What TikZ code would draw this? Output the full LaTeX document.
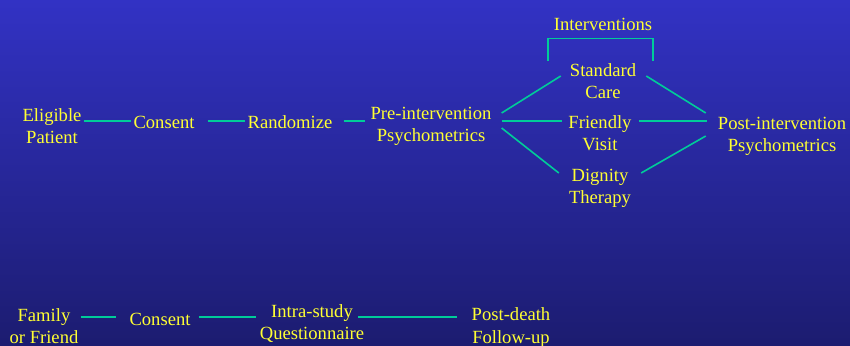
\documentclass[tikz,border=0pt]{standalone}
\usepackage{fontspec}
\setmainfont{Liberation Serif}
\newfontfamily\slidefont{Liberation Serif}
\definecolor{bgtop}{RGB}{50,50,196}
\definecolor{bgbot}{RGB}{28,28,112}
\definecolor{txt}{RGB}{255,255,51}
\definecolor{lnk}{RGB}{0,204,153}
\begin{document}
\begin{tikzpicture}[x=1bp,y=1bp]
\tikzstyle{lbl} = [text=txt, align=center, inner sep=2bp, font=\slidefont\fontsize{18.6bp}{22.3bp}\selectfont] % yellow text node
\tikzstyle{link} = [draw=lnk, line width=1.6bp] % teal connector
\useasboundingbox (0,0) rectangle (850,345);
\shade[top color=bgtop, bottom color=bgbot] (0,0) rectangle (850,345); % background
\coordinate (row1) at (0,224); % level of the upper chain
\coordinate (row2) at (0,28);  % level of the lower chain
% upper chain
\node[lbl] (ep) at (52,219) {Eligible\\Patient};
\node[lbl] (c1) at (164,223) {Consent};
\node[lbl] (rd) at (290,223) {Randomize};
\node[lbl] (pre) at (431,219) {Pre-intervention\\Psychometrics};
\node[lbl] (iv) at (603,321) {Interventions};
\node[lbl] (sc) at (603,264) {Standard\\Care};
\node[lbl] (fv) at (600,211.5) {Friendly\\Visit};
\node[lbl] (dt) at (600,156.5) {Dignity\\Therapy};
\node[lbl] (post) at (782,208.5) {Post-intervention\\Psychometrics};
% lower chain
\node[lbl] (ff) at (44,19) {Family\\or Friend};
\node[lbl] (c2) at (160,26) {Consent};
\node[lbl] (iq) at (312,21.5) {Intra-study\\Questionnaire};
\node[lbl] (pd) at (511,17.5) {Post-death\\Follow-up};
% connectors
\draw[link] (ep.east |- row1) -- (c1.west |- row1);
\draw[link, shorten <=11bp] (c1.east |- row1) -- (rd.west |- row1);
\draw[link, shorten <=9bp, shorten >=3bp] (rd.east |- row1) -- (pre.west |- row1);
\draw[link, shorten <=8bp, shorten >=4bp] (pre.east |- row1) -- (fv.west |- row1);
\draw[link, shorten <=5bp, shorten >=9bp] (fv.east |- row1) -- (post.west |- row1);
\draw[link] ([shift={(8bp,13bp)}]pre.east) -- ([shift={(-7bp,5bp)}]sc.west);
\draw[link] ([shift={(8bp,-2bp)}]pre.east) -- ([shift={(-8bp,15.5bp)}]dt.west);
\draw[link] ([shift={(8bp,5bp)}]sc.east) -- ([shift={(-10bp,23.5bp)}]post.west);
\draw[link] ([shift={(8bp,15.5bp)}]dt.east) -- ([shift={(-10bp,0.5bp)}]post.west);
\draw[link] ([xshift=-4bp]iv.west |- sc.north) |- ([yshift=-6bp]iv.south) -| ([xshift=-1bp]iv.east |- sc.north); % bracket
\draw[link, shorten >=11bp] (ff.east |- row2) -- (c2.west |- row2);
\draw[link, shorten <=6bp, shorten >=2bp] (c2.east |- row2) -- (iq.west |- row2);
\draw[link, shorten <=-8bp, shorten >=13bp] (iq.east |- row2) -- (pd.west |- row2);
\end{tikzpicture}
\end{document}
